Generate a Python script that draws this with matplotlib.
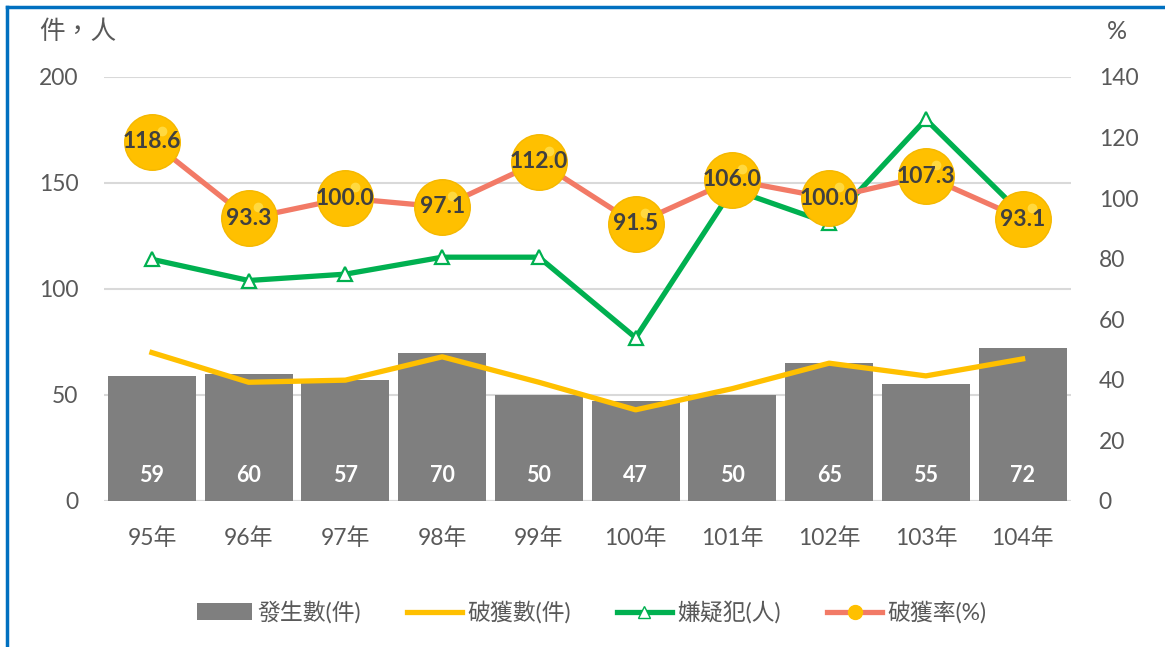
import matplotlib.pyplot as plt
import matplotlib.transforms as mtransforms
from matplotlib.lines import Line2D
from matplotlib.patches import Patch
import numpy as np

plt.rcParams['font.family'] = ['Lato', 'Noto Sans CJK TC', 'DejaVu Sans']

years = ['95年', '96年', '97年', '98年', '99年', '100年', '101年', '102年', '103年', '104年']
cases = [59, 60, 57, 70, 50, 47, 50, 65, 55, 72]          # 發生數(件)
solved = [70, 56, 57, 68, 56, 43, 53, 65, 59, 67]         # 破獲數(件)
suspects = [114, 104, 107, 115, 115, 77, 147, 131, 180, 135]  # 嫌疑犯(人)
rate = [118.6, 93.3, 100.0, 97.1, 112.0, 91.5, 106.0, 100.0, 107.3, 93.1]  # 破獲率(%)

txt = '#595959'
x = np.arange(len(years))

fig = plt.figure(figsize=(11.65, 6.47), dpi=100)
ax = fig.add_axes([0.0889, 0.2257, 0.8304, 0.6553])
ax.set_xlim(-0.5, len(years) - 0.5)
ax.set_ylim(0, 200)
ax.set_yticks([0, 50, 100, 150, 200])
ax.yaxis.grid(True, color='#D9D9D9', linewidth=1.5)
ax.set_axisbelow(True)
for s in ax.spines.values():
    s.set_visible(False)
ax.axhline(0, color='#D9D9D9', linewidth=1.5, zorder=1)
ax.tick_params(length=0, labelsize=16.5, labelcolor=txt)
ax.tick_params(axis='y', pad=18)
ax.tick_params(axis='x', pad=19)
ax.set_xticks(x)
ax.set_xticklabels(years)

bars = ax.bar(x, cases, width=0.91, color='#7F7F7F', zorder=2)
for xi, v in zip(x, cases):
    ax.text(xi, 12, str(v), ha='center', va='center', color='white',
            fontsize=15.5, fontweight='bold', zorder=3)

ax.plot(x, solved, color='#FFC000', linewidth=3.8, zorder=4)
ax.plot(x, suspects, color='#00B050', linewidth=3.8, marker='^', markersize=10,
        markerfacecolor='white', markeredgecolor='#00B050', markeredgewidth=1.6, zorder=5)

ax2 = ax.twinx()
ax2.set_ylim(0, 140)
ax2.set_yticks(np.arange(0, 141, 20))
for s in ax2.spines.values():
    s.set_visible(False)
ax2.tick_params(length=0, labelsize=16.5, labelcolor=txt, pad=20)

ax2.plot(x, rate, color='#F27A66', linewidth=3.8, zorder=3)
ax2.plot(x, rate, linestyle='none', marker='o', markersize=40,
         markerfacecolor='#FFC000', markeredgecolor='#F5B800', markeredgewidth=1, zorder=4)
hl = ax2.transData + mtransforms.ScaledTranslation(7 / 72, 8 / 72, fig.dpi_scale_trans)
ax2.plot(x, rate, linestyle='none', marker='o', markersize=7, transform=hl,
         markerfacecolor='#FFE55C', markeredgewidth=0, alpha=0.7, zorder=5)
for xi, v in zip(x, rate):
    ax2.text(xi, v, f'{v:.1f}', ha='center', va='center', color='#404040',
             fontsize=16.5, fontweight='bold', zorder=6)

fig.text(0.034, 0.951, '件，人', fontsize=18.5, color=txt, va='center', ha='left')
fig.text(0.959, 0.951, '%', fontsize=18, color=txt, va='center', ha='center')

handles = [
    Patch(facecolor='#7F7F7F'),
    Line2D([], [], color='#FFC000', linewidth=3.8),
    Line2D([], [], color='#00B050', linewidth=3.8, marker='^', markersize=9,
           markerfacecolor='white', markeredgecolor='#00B050'),
    Line2D([], [], color='#F27A66', linewidth=3.8, marker='o', markersize=10,
           markerfacecolor='#FFC000', markeredgecolor='#FFC000'),
]
labels = ['發生數(件)', '破獲數(件)', '嫌疑犯(人)', '破獲率(%)']
leg = fig.legend(handles, labels, loc='center', bbox_to_anchor=(0.508, 0.054), ncol=4,
                 frameon=False, fontsize=16.5, handlelength=2.4, columnspacing=2.0,
                 handletextpad=0.25)
for t in leg.get_texts():
    t.set_color(txt)

# blue frame along top and left edges
fig.add_artist(Line2D([0.006, 1.0], [0.989, 0.989], transform=fig.transFigure,
                      color='#0070C0', linewidth=2.5))
fig.add_artist(Line2D([0.006, 0.006], [0.0, 0.989], transform=fig.transFigure,
                      color='#0070C0', linewidth=2.5))

fig.savefig('out.png', dpi=100)
